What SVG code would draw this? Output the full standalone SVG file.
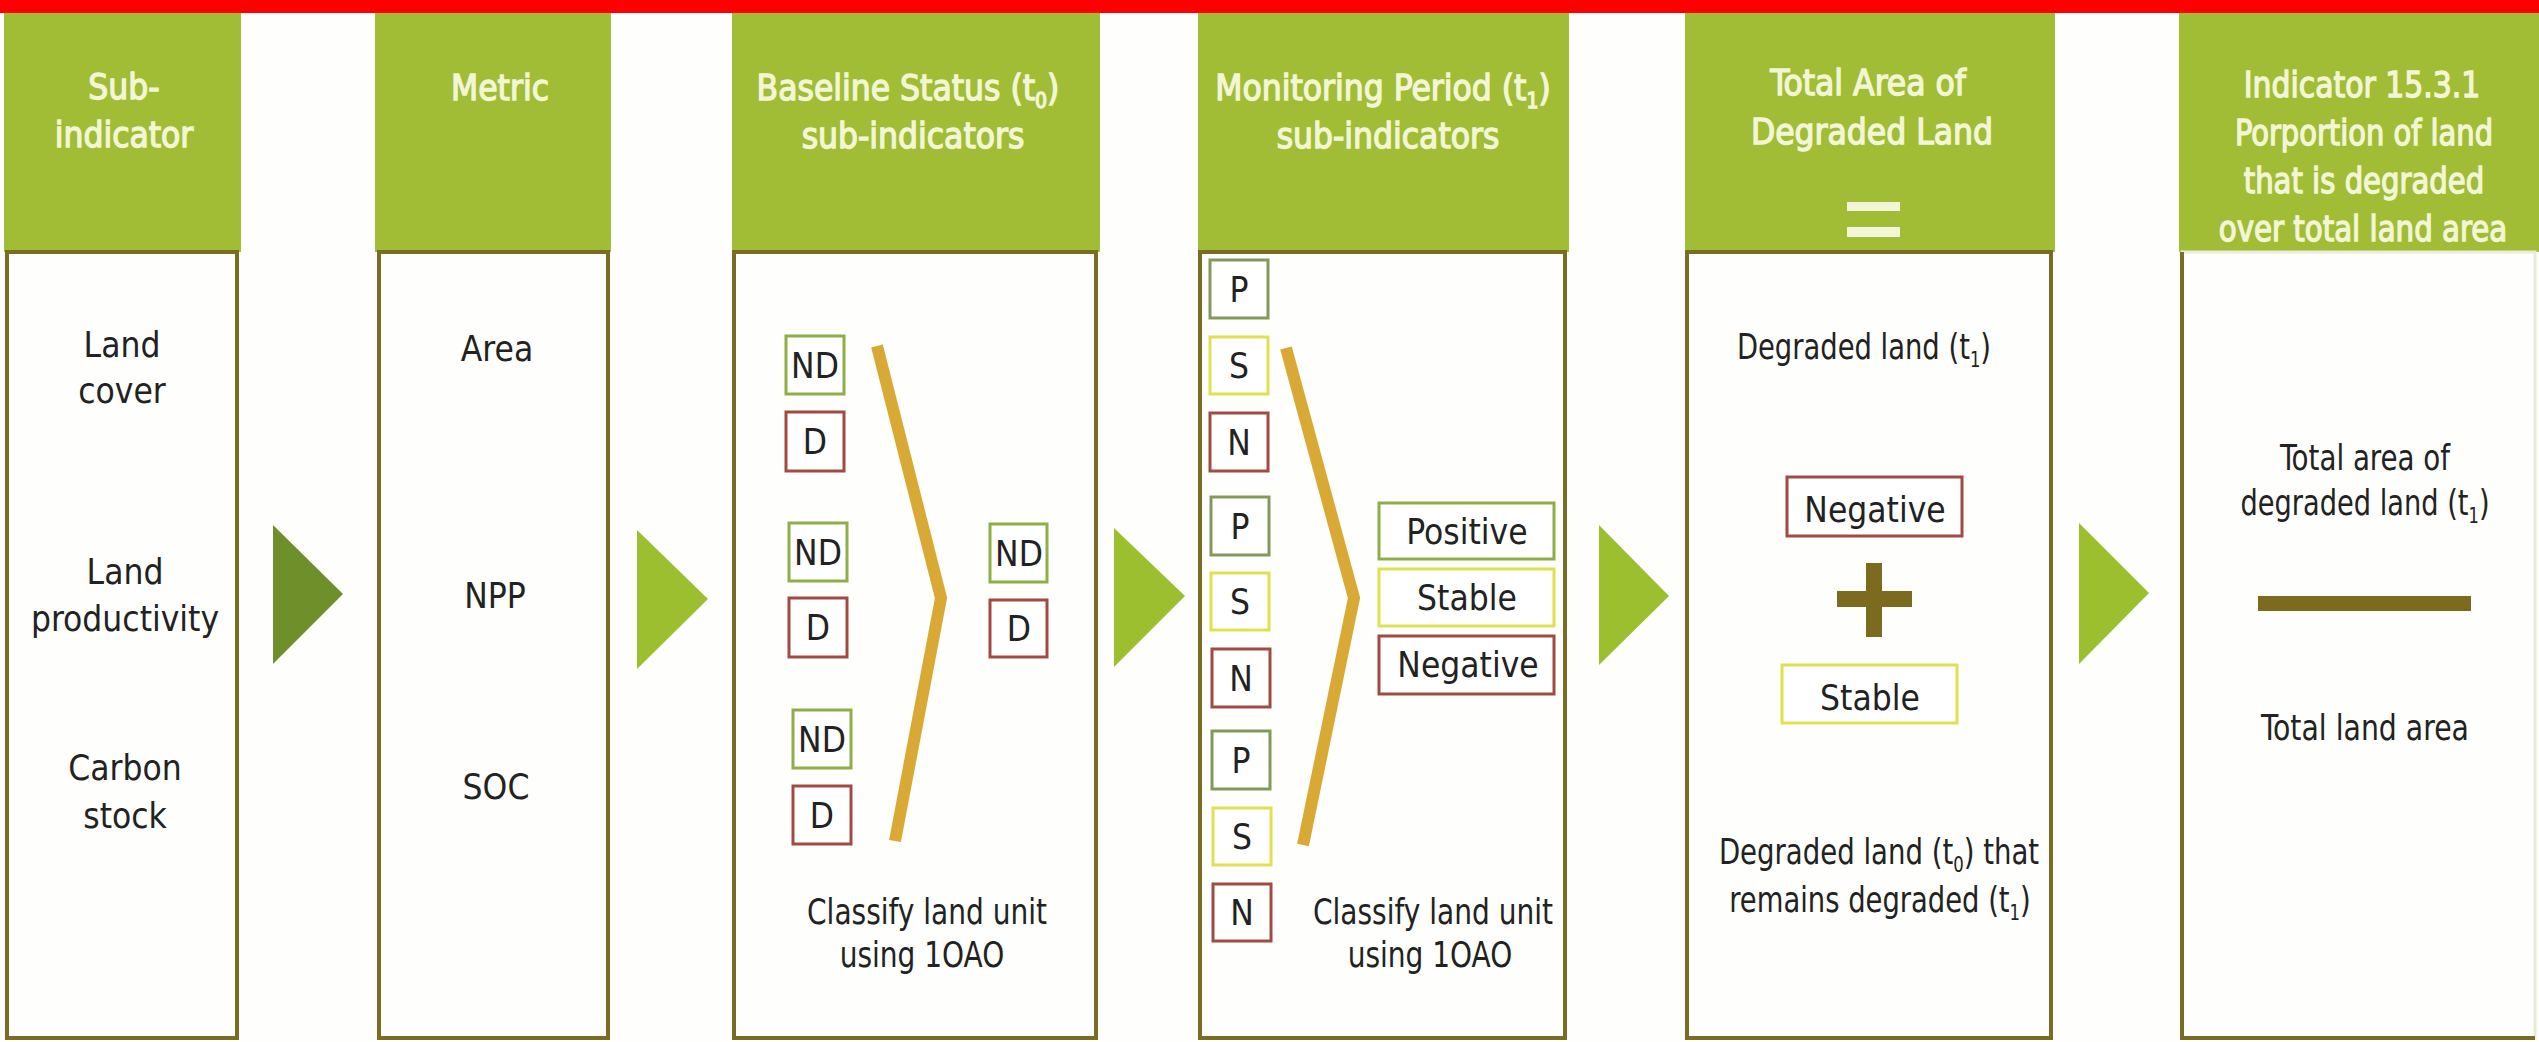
<svg xmlns="http://www.w3.org/2000/svg" width="2539" height="1042" viewBox="0 0 2539 1042">
<style>
text{font-family:"Liberation Sans Narrow","DejaVu Sans Condensed","Liberation Sans",sans-serif;text-anchor:middle}
.hd{fill:#a1bd35}
.ht{fill:#f3f6d6;stroke:#f3f6d6;stroke-width:1.3;font-size:35px}
.body{fill:#fefefc;stroke:#7b6c24;stroke-width:4}
.bt{fill:#222;font-size:35px}
.bx{fill:#fff;stroke-width:3}
.g{stroke:#8fae45}
.r{stroke:#a24a40}
.y{stroke:#e0e050}
.gp{stroke:#83995a}
.chev{fill:none;stroke:#d9a935;stroke-width:12;stroke-linejoin:miter}
.arr{fill:#9bbf2f}
.ol{fill:#7c6a1f}
.sub{font-size:21px}
</style>
<rect x="0" y="0" width="2539" height="1042" fill="#fefefc"/>
<rect x="0" y="0" width="2539" height="13" fill="#ff0000"/>

<g id="col1">
<rect class="hd" x="4" y="13" width="237" height="239"/>
<text class="ht" x="124" y="99">Sub-</text>
<text class="ht" x="124" y="147">indicator</text>
<rect class="body" x="7" y="252" width="230" height="786"/>
<text class="bt" x="122" y="357">Land</text>
<text class="bt" x="122" y="403">cover</text>
<text class="bt" x="125" y="584">Land</text>
<text class="bt" x="125" y="631">productivity</text>
<text class="bt" x="125" y="780">Carbon</text>
<text class="bt" x="125" y="828">stock</text>
</g>

<g id="col2">
<rect class="hd" x="375" y="13" width="236" height="239"/>
<text class="ht" x="500" y="100">Metric</text>
<rect class="body" x="379" y="252" width="229" height="786"/>
<text class="bt" x="497" y="361">Area</text>
<text class="bt" x="495" y="608">NPP</text>
<text class="bt" x="496" y="799">SOC</text>
</g>

<g id="col3">
<rect class="hd" x="732" y="13" width="368" height="239"/>
<text class="ht" x="908" y="100">Baseline Status (t<tspan class="sub" dy="8">0</tspan><tspan dy="-8">)</tspan></text>
<text class="ht" x="913" y="148">sub-indicators</text>
<rect class="body" x="734" y="252" width="362" height="786"/>
<rect class="bx g" x="786" y="336" width="58" height="58"/><text class="bt" x="815" y="378">ND</text>
<rect class="bx r" x="786" y="412" width="58" height="59"/><text class="bt" x="815" y="454">D</text>
<rect class="bx g" x="789" y="523" width="58" height="58"/><text class="bt" x="818" y="565">ND</text>
<rect class="bx r" x="789" y="598" width="58" height="59"/><text class="bt" x="818" y="640">D</text>
<rect class="bx g" x="793" y="710" width="58" height="58"/><text class="bt" x="822" y="752">ND</text>
<rect class="bx r" x="793" y="786" width="58" height="58"/><text class="bt" x="822" y="828">D</text>
<polyline class="chev" points="877,346 941,598 895,841"/>
<rect class="bx g" x="990" y="524" width="57" height="58"/><text class="bt" x="1019" y="566">ND</text>
<rect class="bx r" x="990" y="600" width="57" height="57"/><text class="bt" x="1019" y="641">D</text>
<text class="bt" x="927" y="924" transform="matrix(0.89 0 0 1 102 0)">Classify land unit</text>
<text class="bt" x="922" y="967" transform="matrix(0.89 0 0 1 101.4 0)">using 1OAO</text>
</g>

<g id="col4">
<rect class="hd" x="1198" y="13" width="371" height="239"/>
<text class="ht" x="1383" y="100">Monitoring Period (t<tspan class="sub" dy="8">1</tspan><tspan dy="-8">)</tspan></text>
<text class="ht" x="1388" y="148">sub-indicators</text>
<rect class="body" x="1200" y="252" width="365" height="786"/>
<rect class="bx gp" x="1210" y="260" width="58" height="58"/><text class="bt" x="1239" y="302">P</text>
<rect class="bx y" x="1210" y="337" width="58" height="57"/><text class="bt" x="1239" y="378">S</text>
<rect class="bx r" x="1210" y="413" width="58" height="58"/><text class="bt" x="1239" y="455">N</text>
<rect class="bx gp" x="1211" y="497" width="58" height="58"/><text class="bt" x="1240" y="539">P</text>
<rect class="bx y" x="1211" y="573" width="58" height="57"/><text class="bt" x="1240" y="614">S</text>
<rect class="bx r" x="1212" y="649" width="58" height="58"/><text class="bt" x="1241" y="691">N</text>
<rect class="bx gp" x="1212" y="731" width="58" height="58"/><text class="bt" x="1241" y="773">P</text>
<rect class="bx y" x="1213" y="808" width="58" height="57"/><text class="bt" x="1242" y="849">S</text>
<rect class="bx r" x="1213" y="884" width="58" height="57"/><text class="bt" x="1242" y="925">N</text>
<polyline class="chev" points="1286,348 1354,598 1303,845"/>
<rect class="bx g" x="1379" y="503" width="175" height="56"/><text class="bt" x="1467" y="544">Positive</text>
<rect class="bx y" x="1379" y="569" width="175" height="57"/><text class="bt" x="1467" y="610">Stable</text>
<rect class="bx r" x="1379" y="636" width="175" height="58"/><text class="bt" x="1468" y="677">Negative</text>
<text class="bt" x="1433" y="924" transform="matrix(0.89 0 0 1 157.6 0)">Classify land unit</text>
<text class="bt" x="1430" y="967" transform="matrix(0.89 0 0 1 157.3 0)">using 1OAO</text>
</g>

<g id="col5">
<rect class="hd" x="1685" y="13" width="370" height="239"/>
<text class="ht" x="1868" y="95">Total Area of</text>
<text class="ht" x="1872" y="144">Degraded Land</text>
<rect x="1847" y="202" width="53" height="9" fill="#f3f6d6"/>
<rect x="1847" y="227" width="53" height="10" fill="#f3f6d6"/>
<rect class="body" x="1687" y="252" width="364" height="786"/>
<text class="bt" x="1864" y="359" transform="matrix(0.87 0 0 1 242.3 0)">Degraded land (t<tspan class="sub" dy="8">1</tspan><tspan dy="-8">)</tspan></text>
<rect class="bx r" x="1787" y="477" width="175" height="59"/><text class="bt" x="1875" y="522">Negative</text>
<rect class="ol" x="1837" y="591" width="75" height="16"/>
<rect class="ol" x="1866" y="563" width="16" height="74"/>
<rect class="bx y" x="1782" y="665" width="175" height="58"/><text class="bt" x="1870" y="710">Stable</text>
<text class="bt" x="1879" y="864" transform="matrix(0.875 0 0 1 234.9 0)">Degraded land (t<tspan class="sub" dy="8">0</tspan><tspan dy="-8">) that</tspan></text>
<text class="bt" x="1880" y="912" transform="matrix(0.87 0 0 1 244.4 0)">remains degraded (t<tspan class="sub" dy="8">1</tspan><tspan dy="-8">)</tspan></text>
</g>

<g id="col6">
<rect class="hd" x="2179" y="13" width="360" height="239"/>
<text class="ht" x="2362" y="97" transform="matrix(0.95 0 0 1 118.1 0)">Indicator 15.3.1</text>
<text class="ht" x="2364" y="145" transform="matrix(0.92 0 0 1 189.1 0)">Porportion of land</text>
<text class="ht" x="2364" y="193" transform="matrix(0.925 0 0 1 177.3 0)">that is degraded</text>
<text class="ht" x="2363" y="241" transform="matrix(0.93 0 0 1 165.4 0)">over total land area</text>
<rect x="2182" y="252" width="353" height="786" fill="#fefefc" stroke="#e9ead8" stroke-width="3"/>
<path d="M2182 252 V1038 H2535" fill="none" stroke="#7b6c24" stroke-width="4"/>
<text class="bt" x="2365" y="470" transform="matrix(0.88 0 0 1 283.8 0)">Total area of</text>
<text class="bt" x="2365" y="515" transform="matrix(0.865 0 0 1 319.3 0)">degraded land (t<tspan class="sub" dy="8">1</tspan><tspan dy="-8">)</tspan></text>
<rect class="ol" x="2258" y="596" width="213" height="15"/>
<text class="bt" x="2365" y="740" transform="matrix(0.9 0 0 1 236.5 0)">Total land area</text>
</g>

<g id="connectors">
<polygon points="273,525 343,594 273,664" fill="#6f8f2a"/>
<polygon class="arr" points="637,530 708,599 637,669"/>
<polygon class="arr" points="1114,528 1185,596 1114,667"/>
<polygon class="arr" points="1599,525 1669,596 1599,665"/>
<polygon class="arr" points="2079,523 2149,593 2079,664"/>
</g>
</svg>
